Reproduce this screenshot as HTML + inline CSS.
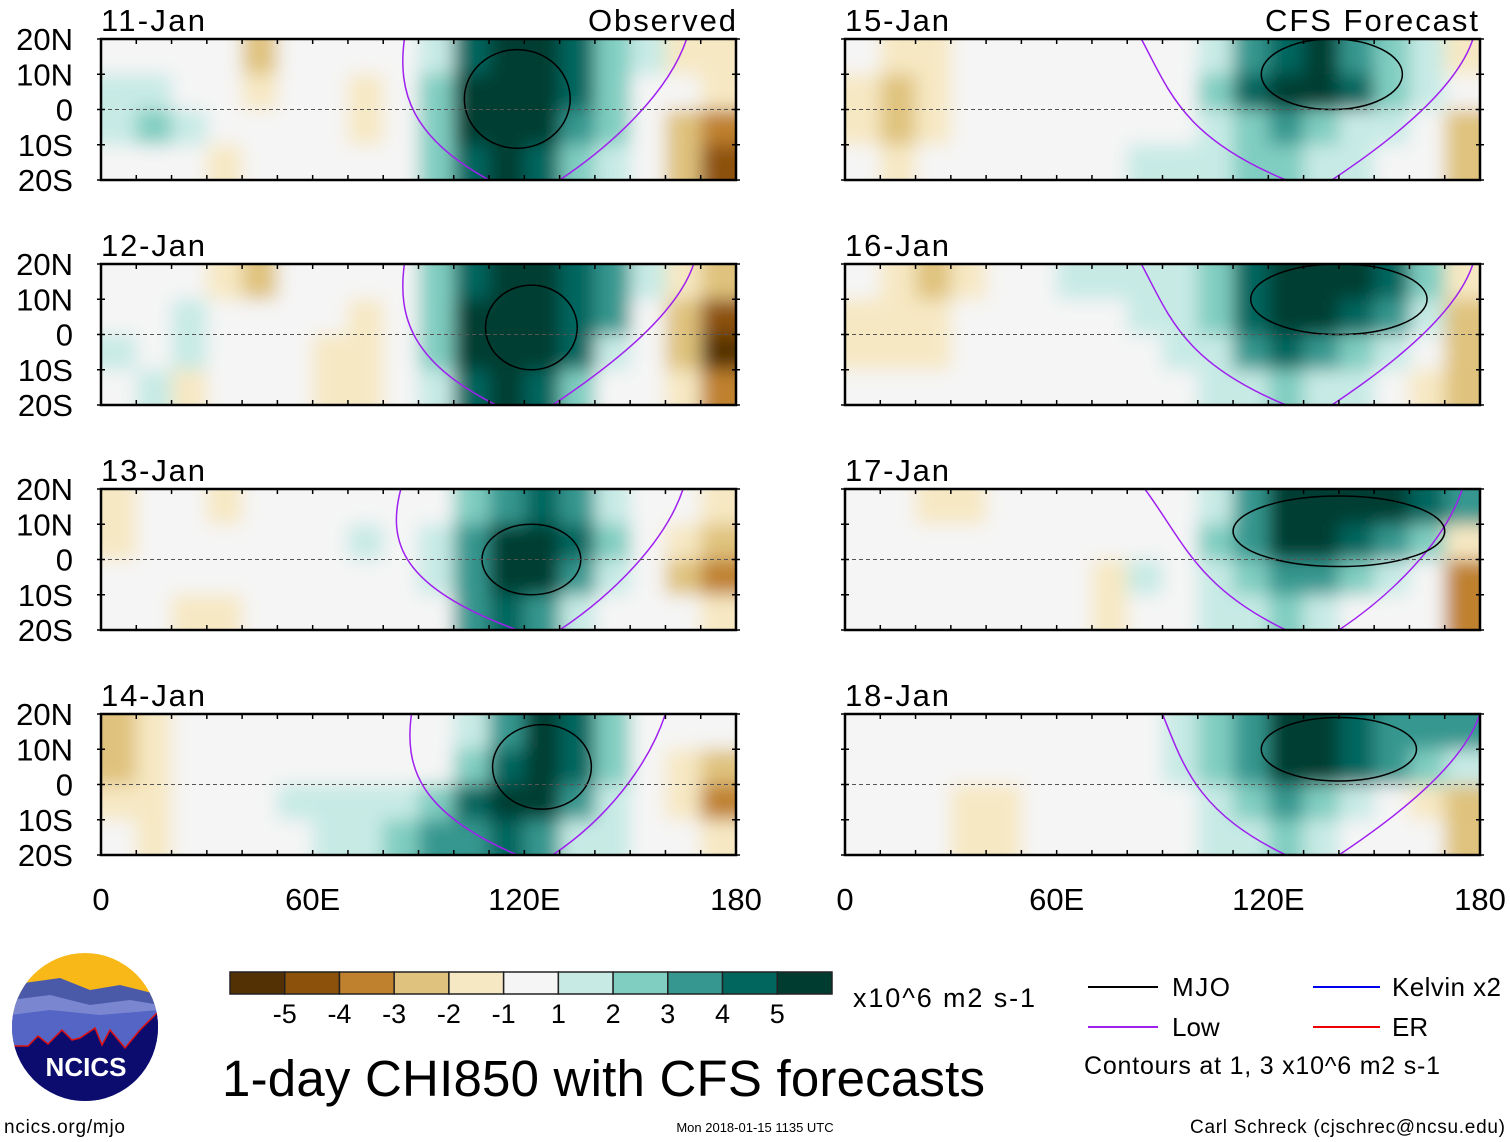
<!DOCTYPE html>
<html><head><meta charset="utf-8"><style>
html,body{margin:0;padding:0;background:#fff;}
svg{display:block;font-family:"Liberation Sans",sans-serif;}
</style></head><body>
<svg id="chart" width="1510" height="1142" viewBox="0 0 1510 1142" xmlns="http://www.w3.org/2000/svg">
<defs>
<filter id="blur" x="-5%" y="-10%" width="110%" height="120%"><feGaussianBlur stdDeviation="9"/></filter>
</defs>
<g id="panels"></g>
<g id="legend">
  <g>
    <clipPath id="logoClip"><ellipse cx="85" cy="1027" rx="73" ry="74"/></clipPath>
    <g clip-path="url(#logoClip)">
      <rect x="10" y="950" width="150" height="160" fill="#f8b818"/>
      <path d="M10 985 L60 978 L90 990 L120 985 L160 995 L160 1110 L10 1110Z" fill="#4a5aa8"/>
      <path d="M10 1000 L50 995 L90 1005 L130 1000 L160 1005 L160 1110 L10 1110Z" fill="#7a86d0"/>
      <path d="M10 1015 L50 1010 L100 1015 L160 1010 L160 1110 L10 1110Z" fill="#5565c5"/>
      <path d="M10 1046 L28 1046 L38 1036 L48 1044 L62 1030 L72 1040 L80 1038 L95 1028 L102 1045 L110 1030 L125 1048 L140 1030 L160 1010 L160 1110 L10 1110Z" fill="#0c0c6e" stroke="#e01010" stroke-width="1.5"/>
    </g>
    <text x="86" y="1076" text-anchor="middle" font-size="26" font-weight="bold" fill="#fff">NCICS</text>
  </g>
  <g id="cbar"></g>
  <text x="853" y="1007" font-size="27" textLength="182">x10^6 m2 s-1</text>
  <text x="222" y="1096" font-size="51" textLength="763">1-day CHI850 with CFS forecasts</text>
  <line x1="1088" y1="987" x2="1158" y2="987" stroke="#000" stroke-width="2"/>
  <text x="1172" y="996" font-size="26" textLength="58">MJO</text>
  <line x1="1313" y1="987" x2="1380" y2="987" stroke="#0000ee" stroke-width="2"/>
  <text x="1392" y="996" font-size="26" textLength="109">Kelvin x2</text>
  <line x1="1088" y1="1027" x2="1158" y2="1027" stroke="#a020f0" stroke-width="2"/>
  <text x="1172" y="1036" font-size="26">Low</text>
  <line x1="1313" y1="1027" x2="1380" y2="1027" stroke="#ee0000" stroke-width="2"/>
  <text x="1392" y="1036" font-size="26">ER</text>
  <text x="1084" y="1074" font-size="25" textLength="356">Contours at 1, 3 x10^6 m2 s-1</text>
  <text x="4" y="1133" font-size="19" textLength="121">ncics.org/mjo</text>
  <text x="755" y="1132" font-size="13" text-anchor="middle">Mon 2018-01-15 1135 UTC</text>
  <text x="1190" y="1133" font-size="19" textLength="315">Carl Schreck (cjschrec@ncsu.edu)</text>
</g>
</svg>
<script>
const levelColors = ["#543005","#8c510a","#bf812d","#dfc27d","#f6e8c3","#f5f5f5","#c7eae5","#80cdc1","#35978f","#01665e","#003c30"];
const cbarLabels = ["-5","-4","-3","-2","-1","1","2","3","4","5"];
const panelDates = ["11-Jan","12-Jan","13-Jan","14-Jan","15-Jan","16-Jan","17-Jan","18-Jan"];
const lonTicks = [0,60,120,180];
const lonTickLabels = ["0","60E","120E","180"];
const latTicks = [20,10,0,-10,-20];
const latTickLabels = ["20N","10N","0","10S","20S"];
const lev11 = [[0,0,0,0,-2,0,0,0,0,1,4,5,5,4,2,1,-1,-1],[1,1,0,0,-1,0,0,-1,0,2,5,5,5,4,2,0,0,-1],[1,2,1,0,0,0,0,-1,0,2,5,5,5,3,2,0,-2,-3],[0,0,0,-1,0,0,0,0,0,2,4,5,4,2,1,0,-2,-4]];
const lev12 = [[0,0,0,-1,-2,0,0,0,0,2,4,5,5,4,3,1,-1,-2],[0,0,1,0,0,0,0,-1,0,2,5,5,5,4,3,0,-2,-4],[1,0,1,0,0,0,-1,-1,0,2,5,5,5,4,1,0,-2,-5],[0,1,-1,0,0,0,-1,-1,0,1,4,5,4,2,0,0,-1,-3]];
const lev13 = [[-1,0,0,-1,0,0,0,0,0,0,2,3,4,3,1,0,0,-1],[-1,0,0,0,0,0,0,1,0,1,3,5,5,4,2,0,-1,-2],[0,0,0,0,0,0,0,0,0,1,3,5,5,3,1,0,-2,-3],[0,0,-1,-1,0,0,0,0,0,0,3,4,3,1,0,0,0,-1]];
const lev14 = [[-2,-1,0,0,0,0,0,0,0,0,1,3,5,4,2,0,0,0],[-2,-1,0,0,0,0,0,0,0,0,2,4,5,4,2,0,-1,-2],[-1,-1,0,0,0,1,1,1,1,2,4,5,5,3,1,0,-1,-3],[0,-1,0,0,0,0,1,1,2,3,3,4,3,1,1,0,0,-1]];
const lev15 = [[0,-1,-1,0,0,0,0,0,0,0,1,3,4,5,3,2,1,-1],[-1,-2,-1,0,0,0,0,0,0,0,2,4,5,5,4,2,1,0],[-1,-2,-1,0,0,0,0,0,0,0,1,2,3,2,1,1,0,-2],[0,-1,0,0,0,0,0,0,1,1,1,2,2,1,1,0,0,-2]];
const lev16 = [[0,-1,-2,-1,0,0,1,1,1,1,2,4,5,5,5,4,2,-1],[-1,-1,-1,0,0,0,0,0,1,1,2,4,5,5,4,3,1,-2],[-1,-1,-1,0,0,0,0,0,0,1,1,3,4,3,2,1,0,-2],[0,0,0,0,0,0,0,0,0,0,1,1,2,1,1,0,-1,-2]];
const lev17 = [[0,0,-1,-1,0,0,0,0,0,0,1,3,5,5,5,5,4,3],[0,0,0,0,0,0,0,0,0,0,2,3,5,5,4,3,2,-1],[0,0,0,0,0,0,0,-1,1,0,1,2,3,3,2,1,0,-3],[0,0,0,0,0,0,0,-1,0,0,1,1,2,1,0,0,0,-3]];
const lev18 = [[0,0,0,0,0,0,0,0,0,1,2,3,5,5,4,3,3,3],[0,0,0,0,0,0,0,0,0,1,2,3,5,5,4,3,2,1],[0,0,0,-1,-1,0,0,0,0,0,1,2,3,2,1,0,-1,-2],[0,0,0,-1,-1,0,0,0,0,0,1,1,2,1,0,0,0,-2]];
const panelLevels = [lev11,lev12,lev13,lev14,lev15,lev16,lev17,lev18];
const mjoLon = [118,122,122,125,138,140,140,140];
const mjoLat = [3,2,0,5,10,10,8,10];
const mjoRLon = [15,13,14,14,20,25,30,22];
const mjoRLat = [14,12,10,12,10,10,10,9];
// western Low (purple) contour: lon at 20N, near equator, at 20S
const lowTop = [86,86,85,88,84,84,85,90];
const lowMid = [88,88,85,90,96,96,100,100];
const lowBot = [110,112,118,118,125,125,125,125];
// eastern Low contour: lon at 20N and 20S
const lowETop = [166,168,165,160,178,178,175,180];
const lowEBot = [130,128,130,128,138,138,140,140];

const NS="http://www.w3.org/2000/svg";
const W=635,H=141;
const colX=[101,845], rowY=[39,264,489,714];
function mk(tag,attrs,parent){const e=document.createElementNS(NS,tag);for(const k in attrs)e.setAttribute(k,attrs[k]);parent.appendChild(e);return e;}
function colorOf(v){return levelColors[5+v];}

const panels=document.getElementById('panels');
panelLevels.forEach((grid,p)=>{
  const x0=colX[Math.floor(p/4)], y0=rowY[p%4];
  const lx=lon=>x0+lon*W/180, ly=lat=>y0+(20-lat)*H/40;
  const g=mk('g',{},panels);
  
  
  const cid='clip'+p;
  const cp=mk('clipPath',{id:cid},g);
  mk('rect',{x:x0,y:y0,width:W,height:H},cp);
  const cg=mk('g',{'clip-path':'url(#'+cid+')'},g);
  mk('rect',{x:x0,y:y0,width:W,height:H,fill:'#f5f5f5'},cg);
  const bg=mk('g',{filter:'url(#blur)'},cg);
  grid.forEach((row,r)=>{row.forEach((v,c)=>{
    let xa=lx(c*10), xb=lx(c*10+10), ya=ly(20-r*10), yb=ly(10-r*10);
    if(c===0)xa-=25; if(c===17)xb+=25; if(r===0)ya-=25; if(r===3)yb+=25;
    const rc=mk('rect',{x:xa,y:ya,width:xb-xa+0.5,height:yb-ya+0.5,fill:colorOf(v)},bg);
    
    
  });});
  const lw=mk('path',{d:`M${lx(lowTop[p])} ${ly(20)} C${lx(lowMid[p]-4)} ${ly(5)} ${lx(lowMid[p])} ${ly(-8)} ${lx(lowBot[p])} ${ly(-20)}`,fill:'none',stroke:'#a020f0','stroke-width':1.5},cg);
  
  
  const le=mk('path',{d:`M${lx(lowETop[p])} ${ly(20)} C${lx(lowETop[p]-5)} ${ly(5)} ${lx(lowEBot[p]+15)} ${ly(-10)} ${lx(lowEBot[p])} ${ly(-20)}`,fill:'none',stroke:'#a020f0','stroke-width':1.5},cg);
  
  
  const el=mk('ellipse',{cx:lx(mjoLon[p]),cy:ly(mjoLat[p]),rx:mjoRLon[p]*W/180,ry:mjoRLat[p]*H/40,fill:'none',stroke:'#000','stroke-width':1.5},cg);
  
  
  mk('line',{x1:x0,x2:x0+W,y1:ly(0),y2:ly(0),stroke:'#555','stroke-dasharray':'4,3','stroke-width':1},cg);
  mk('rect',{x:x0,y:y0,width:W,height:H,fill:'none',stroke:'#000','stroke-width':2.5},g);
  for(let lon=0;lon<=180;lon+=10){const X=lx(lon);mk('line',{x1:X,x2:X,y1:y0,y2:y0+5,stroke:'#000','stroke-width':1.5},g);mk('line',{x1:X,x2:X,y1:y0+H,y2:y0+H-5,stroke:'#000','stroke-width':1.5},g);}
  latTicks.forEach((lat,i)=>{const Y=ly(lat);
    mk('line',{x1:x0-4,x2:x0+4,y1:Y,y2:Y,stroke:'#000','stroke-width':1.5},g);
    mk('line',{x1:x0+W-4,x2:x0+W+4,y1:Y,y2:Y,stroke:'#000','stroke-width':1.5},g);
    if(p<4){
      const t=mk('text',{x:x0-28,y:Y+11,'text-anchor':'end','font-size':31},g);
      
      
      t.textContent=latTickLabels[i];
    }
  });
  const tt=mk('text',{x:x0,y:y0-8,'font-size':31,textLength:104},g);
  
  
  tt.textContent=panelDates[p];
  if(p%4===0){const s=mk('text',{x:p===0?588:1265,y:y0-8,'font-size':31,textLength:p===0?148:213},g);
    
    
    s.textContent=p===0?'Observed':'CFS Forecast';}
  if(p%4===3){lonTicks.forEach((lon,i)=>{const t=mk('text',{x:lx(lon),y:910,'font-size':31,'text-anchor':'middle'},g);
    
    
    t.textContent=lonTickLabels[i];});}
});
const cb=document.getElementById('cbar');
const cbx=230,cbw=602/levelColors.length;
levelColors.forEach((c,i)=>{
  const r=mk('rect',{x:cbx+i*cbw,y:972,width:cbw,height:22,fill:c,stroke:'#222','stroke-width':1.5},cb);
  
  
});
cbarLabels.forEach((l,i)=>{
  const t=mk('text',{x:cbx+(i+1)*cbw,y:1023,'font-size':27,'text-anchor':'middle'},cb);
  
  
  t.textContent=l;
});
</script>
</body></html>
